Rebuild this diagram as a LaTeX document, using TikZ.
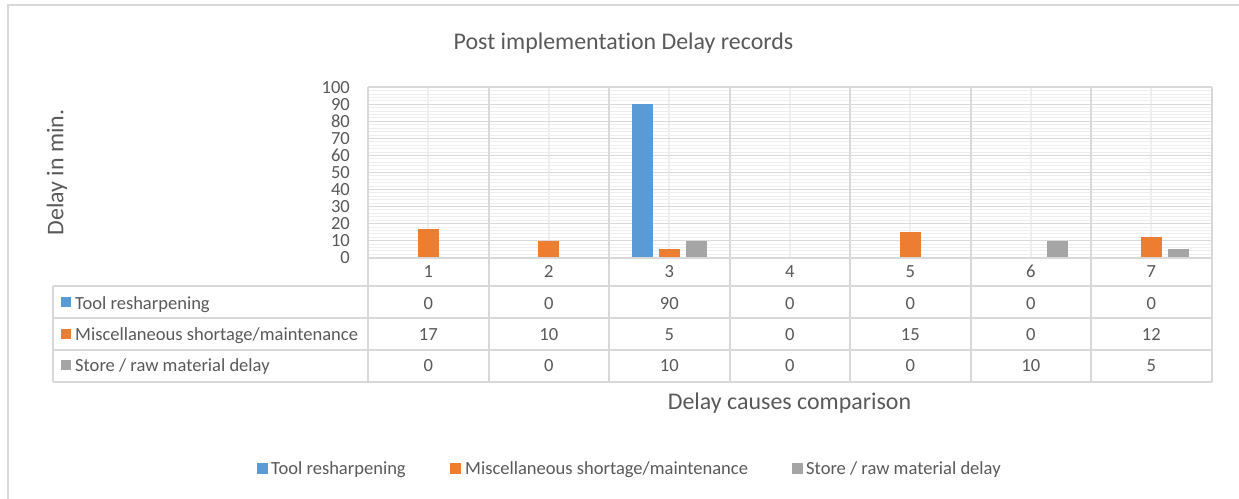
\documentclass[tikz,border=0pt]{standalone}
\usepackage{fontspec}
\setmainfont{Carlito}[Ligatures=NoCommon]
\definecolor{toolblue}{RGB}{91,155,213}
\definecolor{miscorange}{RGB}{237,125,49}
\definecolor{storegray}{RGB}{165,165,165}
\definecolor{inkgray}{RGB}{89,89,89}
\definecolor{linegray}{RGB}{217,217,217}
\definecolor{hatchgray}{RGB}{238,238,238}
\tikzset{
  smalltext/.style={text=inkgray,font=\fontsize{18.6}{22}\selectfont,inner sep=0pt},
  bigtext/.style={text=inkgray,font=\fontsize{24}{28}\selectfont,inner sep=0pt},
  majorline/.style={draw=linegray,line width=1.6bp},
  minorline/.style={draw=hatchgray,line width=1bp},
  centreline/.style={draw=hatchgray,line width=2bp},
  tableline/.style={draw=linegray,line width=2bp},
  keybox/.style={inner sep=0pt,minimum size=#1},
  keybox/.default=10bp
}

\begin{document}
\begin{tikzpicture}[x=1bp,y=-1bp]
  \useasboundingbox (0,0) rectangle (1239,499);
  \draw[tableline] (7.5,499) -- (7.5,5.3) -- (1239,5.3);
  \node[bigtext,anchor=base] (title) at (623.5,49.3) {Post implementation Delay records};
  \node[bigtext,anchor=base,rotate=90] (ytitle) at (63.3,172.5) {Delay in min.};
  \node[bigtext,anchor=base] (xtitle) at (789.5,409) {Delay causes comparison};

  \begin{scope}[shift={(368,257.7)},x=120.5bp,y=1.704bp]
    \foreach \v in {2,4,...,98} \draw[minorline] (0,\v) -- (7,\v);
    \foreach \c in {1,...,7} \draw[centreline] (\c-0.5,0) -- (\c-0.5,100);
    \foreach \v in {10,20,...,100} \draw[majorline] (0,\v) -- (7,\v);
    \foreach \v in {0,10,...,100}
      \node[smalltext,anchor=east] (tick\v) at ([xshift=-18bp]0,\v) {\v};
    \foreach \c/\t/\m/\s in {1/0/17/0,2/0/10/0,3/90/5/10,4/0/0/0,5/0/15/0,6/0/0/10,7/0/12/5} {
      \fill[toolblue] (\c-0.811,0) rectangle (\c-0.637,\t);
      \fill[miscorange] (\c-0.587,0) rectangle (\c-0.413,\m);
      \fill[storegray] (\c-0.363,0) rectangle (\c-0.189,\s);
    }
    \foreach \c in {0,...,7} \draw[tableline] (\c,100) -- ([yshift=-124bp]\c,0);
    \draw[tableline] (0,0) -- (7,0);
    \foreach \c in {1,...,7}
      \node[smalltext,anchor=base] (cat\c) at ([yshift=-20bp]\c-0.5,0) {\c};
  \end{scope}

  \foreach \y in {286.5,318,350,381.7} \draw[tableline] (53,\y) -- (1211.5,\y);
  \draw[tableline] (53,286.5) -- (53,381.7);
  \node[keybox,fill=toolblue] (rowkeytool) at (66,302.3) {};
  \node[keybox,fill=miscorange] (rowkeymisc) at (66,333.8) {};
  \node[keybox,fill=storegray] (rowkeystore) at (66,365) {};
  \node[smalltext,anchor=base west] (rowtool) at (75,309.3) {Tool resharpening};
  \node[smalltext,anchor=base west] (rowmisc) at (75,340.8) {Miscellaneous shortage/maintenance};
  \node[smalltext,anchor=base west] (rowstore) at (75,372) {Store / raw material delay};
  \foreach \c/\t/\m/\s in {1/0/17/0,2/0/10/0,3/90/5/10,4/0/0/0,5/0/15/0,6/0/0/10,7/0/12/5} {
    \node[smalltext,anchor=base] (tool\c) at ({368+120.5*(\c-0.5)},309.3) {\t};
    \node[smalltext,anchor=base] (misc\c) at ({368+120.5*(\c-0.5)},340.8) {\m};
    \node[smalltext,anchor=base] (store\c) at ({368+120.5*(\c-0.5)},372) {\s};
  }

  \node[keybox=11bp,fill=toolblue] (keytool) at (262,468.5) {};
  \node[smalltext,anchor=base west] (legtool) at (271,474.5) {Tool resharpening};
  \node[keybox=11bp,fill=miscorange] (keymisc) at (455,468.5) {};
  \node[smalltext,anchor=base west] (legmisc) at (465,474.5) {Miscellaneous shortage/maintenance};
  \node[keybox=11bp,fill=storegray] (keystore) at (797,468.5) {};
  \node[smalltext,anchor=base west] (legstore) at (806,474.5) {Store / raw material delay};
\end{tikzpicture}
\end{document}
